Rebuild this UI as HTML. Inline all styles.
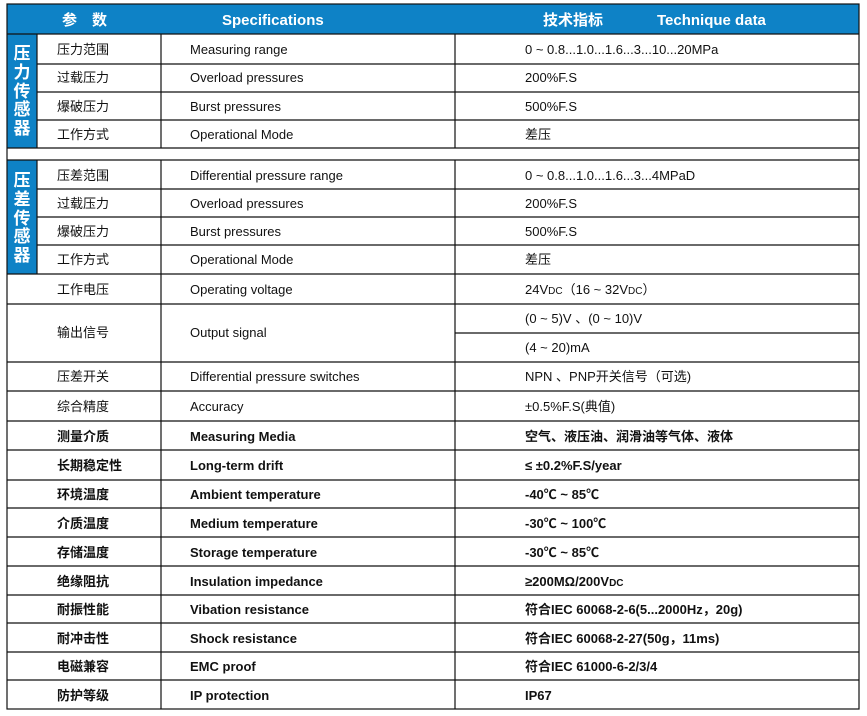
<!DOCTYPE html>
<html><head><meta charset="utf-8"><style>
html,body{margin:0;padding:0;background:#fff;}
svg{display:block;}
text{font-family:"Liberation Sans","Noto Sans CJK SC",sans-serif;font-size:13px;fill:#111;}
.b{font-weight:bold;}
.h{fill:#fff;font-weight:bold;font-size:15px;}
.v{fill:#fff;font-size:17px;font-weight:bold;}
</style></head><body>
<svg width="867" height="716" viewBox="0 0 867 716" xmlns="http://www.w3.org/2000/svg">
<rect x="7" y="4" width="852" height="30" fill="#0e82c6"/>
<rect x="7" y="34" width="30" height="114" fill="#0e82c6"/>
<rect x="7" y="160" width="30" height="114" fill="#0e82c6"/>
<text class="h" x="62" y="25">参　数</text>
<text class="h" x="222" y="25">Specifications</text>
<text class="h" x="543" y="25">技术指标</text>
<text class="h" x="657" y="25">Technique data</text>
<g class="v" text-anchor="middle">
<text class="v" x="22" y="59">压</text><text class="v" x="22" y="78">力</text><text class="v" x="22" y="97">传</text><text class="v" x="22" y="115">感</text><text class="v" x="22" y="134">器</text>
<text class="v" x="22" y="186">压</text><text class="v" x="22" y="205">差</text><text class="v" x="22" y="224">传</text><text class="v" x="22" y="242">感</text><text class="v" x="22" y="261">器</text>
</g>
<g stroke="#111" stroke-width="1.2" fill="none">
<rect x="7" y="4" width="852" height="705"/>
<line x1="7" y1="34" x2="859" y2="34"/>
<line x1="37" y1="64" x2="859" y2="64"/>
<line x1="37" y1="92" x2="859" y2="92"/>
<line x1="37" y1="120" x2="859" y2="120"/>
<line x1="7" y1="148" x2="859" y2="148"/>
<line x1="7" y1="160" x2="859" y2="160"/>
<line x1="37" y1="189" x2="859" y2="189"/>
<line x1="37" y1="217" x2="859" y2="217"/>
<line x1="37" y1="245" x2="859" y2="245"/>
<line x1="7" y1="274" x2="859" y2="274"/>
<line x1="7" y1="304" x2="859" y2="304"/>
<line x1="455" y1="333" x2="859" y2="333"/>
<line x1="7" y1="362" x2="859" y2="362"/>
<line x1="7" y1="391" x2="859" y2="391"/>
<line x1="7" y1="421" x2="859" y2="421"/>
<line x1="7" y1="450" x2="859" y2="450"/>
<line x1="7" y1="480" x2="859" y2="480"/>
<line x1="7" y1="508" x2="859" y2="508"/>
<line x1="7" y1="537" x2="859" y2="537"/>
<line x1="7" y1="566" x2="859" y2="566"/>
<line x1="7" y1="595" x2="859" y2="595"/>
<line x1="7" y1="623" x2="859" y2="623"/>
<line x1="7" y1="652" x2="859" y2="652"/>
<line x1="7" y1="680" x2="859" y2="680"/>
<line x1="37" y1="34" x2="37" y2="148"/>
<line x1="37" y1="160" x2="37" y2="274"/>
<line x1="161" y1="34" x2="161" y2="148"/>
<line x1="161" y1="160" x2="161" y2="709"/>
<line x1="455" y1="34" x2="455" y2="148"/>
<line x1="455" y1="160" x2="455" y2="709"/>
</g>
<text x="57" y="54">压力范围</text><text x="190" y="54">Measuring range</text><text x="525" y="54">0 ~ 0.8...1.0...1.6...3...10...20MPa</text>
<text x="57" y="82">过载压力</text><text x="190" y="82">Overload pressures</text><text x="525" y="82">200%F.S</text>
<text x="57" y="111">爆破压力</text><text x="190" y="111">Burst pressures</text><text x="525" y="111">500%F.S</text>
<text x="57" y="139">工作方式</text><text x="190" y="139">Operational Mode</text><text x="525" y="139">差压</text>
<text x="57" y="180">压差范围</text><text x="190" y="180">Differential pressure range</text><text x="525" y="180">0 ~ 0.8...1.0...1.6...3...4MPaD</text>
<text x="57" y="208">过载压力</text><text x="190" y="208">Overload pressures</text><text x="525" y="208">200%F.S</text>
<text x="57" y="236">爆破压力</text><text x="190" y="236">Burst pressures</text><text x="525" y="236">500%F.S</text>
<text x="57" y="264">工作方式</text><text x="190" y="264">Operational Mode</text><text x="525" y="264">差压</text>
<text x="57" y="294">工作电压</text><text x="190" y="294">Operating voltage</text><text x="525" y="294">24V<tspan font-size="10">DC</tspan>（16 ~ 32V<tspan font-size="10">DC</tspan>）</text>
<text x="57" y="337">输出信号</text><text x="190" y="337">Output signal</text><text x="525" y="323">(0 ~ 5)V 、(0 ~ 10)V</text><text x="525" y="352">(4 ~ 20)mA</text>
<text x="57" y="381">压差开关</text><text x="190" y="381">Differential pressure switches</text><text x="525" y="381">NPN 、PNP开关信号（可选)</text>
<text x="57" y="411">综合精度</text><text x="190" y="411">Accuracy</text><text x="525" y="411">±0.5%F.S(典值)</text>
<g class="b">
<text class="b" x="57" y="441">测量介质</text><text class="b" x="190" y="441">Measuring Media</text><text class="b" x="525" y="441">空气、液压油、润滑油等气体、液体</text>
<text class="b" x="57" y="470">长期稳定性</text><text class="b" x="190" y="470">Long-term drift</text><text class="b" x="525" y="470">≤ ±0.2%F.S/year</text>
<text class="b" x="57" y="499">环境温度</text><text class="b" x="190" y="499">Ambient temperature</text><text class="b" x="525" y="499">-40℃ ~ 85℃</text>
<text class="b" x="57" y="528">介质温度</text><text class="b" x="190" y="528">Medium temperature</text><text class="b" x="525" y="528">-30℃ ~ 100℃</text>
<text class="b" x="57" y="557">存储温度</text><text class="b" x="190" y="557">Storage temperature</text><text class="b" x="525" y="557">-30℃ ~ 85℃</text>
<text class="b" x="57" y="586">绝缘阻抗</text><text class="b" x="190" y="586">Insulation impedance</text><text class="b" x="525" y="586">≥200MΩ/200V<tspan font-size="10">DC</tspan></text>
<text class="b" x="57" y="614">耐振性能</text><text class="b" x="190" y="614">Vibation resistance</text><text class="b" x="525" y="614">符合IEC 60068-2-6(5...2000Hz，20g)</text>
<text class="b" x="57" y="643">耐冲击性</text><text class="b" x="190" y="643">Shock   resistance</text><text class="b" x="525" y="643">符合IEC 60068-2-27(50g，11ms)</text>
<text class="b" x="57" y="671">电磁兼容</text><text class="b" x="190" y="671">EMC proof</text><text class="b" x="525" y="671">符合IEC 61000-6-2/3/4</text>
<text class="b" x="57" y="700">防护等级</text><text class="b" x="190" y="700">IP protection</text><text class="b" x="525" y="700">IP67</text>
</g>
</svg>
</body></html>
